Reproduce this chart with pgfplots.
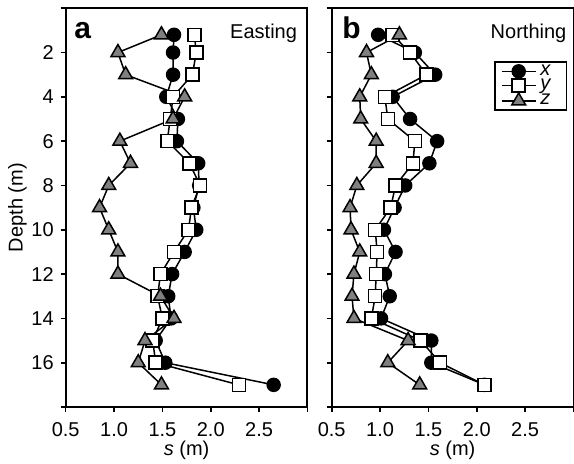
\documentclass[border=0pt]{standalone}
\usepackage{fontspec}
\setmainfont{Liberation Sans}
\usepackage{pgfplots}
\usepackage{pgfplotstable}
\pgfplotsset{compat=1.18}

\pgfplotstableread{
d x y z
1.2 1.62 1.83 1.49
2 1.61 1.85 1.04
3 1.61 1.81 1.12
4 1.54 1.61 1.73
5 1.66 1.58 1.61
6 1.65 1.55 1.06
7 1.87 1.78 1.17
8 1.88 1.89 0.945
9 1.82 1.80 0.85
10 1.85 1.77 0.945
11 1.73 1.62 1.04
12 1.60 1.48 1.04
13 1.56 1.45 1.48
14 1.59 1.50 1.62
15 1.43 1.40 1.32
16 1.53 1.43 1.25
17 2.65 2.29 1.49
}\dataA

\pgfplotstableread{
d x y z
1.2 0.98 1.13 1.20
2 1.36 1.31 0.86
3 1.57 1.48 0.91
4 1.13 1.05 0.79
5 1.31 1.08 0.80
6 1.59 1.36 0.96
7 1.51 1.34 0.96
8 1.26 1.16 0.76
9 1.15 1.11 0.69
10 1.04 0.95 0.70
11 1.16 0.97 0.79
12 1.05 0.96 0.73
13 1.10 0.95 0.71
14 1.01 0.91 0.73
15 1.53 1.42 1.29
16 1.53 1.62 1.08
17 2.08 2.08 1.41
}\dataB

\pgfplotsset{
  panel/.style={
    scale only axis, width=120.9pt, height=199.4pt,
    xmin=0.5, xmax=3.0, ymin=0, ymax=18, y dir=reverse,
    xtick={0.5,1,1.5,2,2.5,3},
    xticklabels={0.5,1.0,1.5,2.0,2.5,},
    ytick={0,2,4,6,8,10,12,14,16,18},
    tick align=outside, tick pos=left, major tick length=2.5pt,
    axis line style={line width=1pt},
    every tick/.style={black, line width=0.8pt},
    tick label style={font=\fontsize{10}{12}\selectfont},
    xticklabel style={yshift=-1.8pt},
    label style={font=\fontsize{10}{12}\selectfont},
    /pgf/number format/assume math mode=true,
    xlabel={\textit{s} (m)},
    x label style={at={(axis description cs:0.5,-0.108)}, anchor=center},
    legend image code/.code={\draw[mark repeat=2,mark phase=2] plot coordinates {(0pt,0pt) (8.5pt,0pt) (17pt,0pt)};},
  },
  xs/.style={black, line width=0.75pt, mark=*, mark size=3.25pt, mark options={fill=black, solid}},
  ys/.style={black, line width=0.75pt, mark=square*, mark size=3.25pt, mark options={fill=white, solid}},
  zs/.style={black, line width=0.75pt, mark=triangle*, mark size=4pt, mark options={fill=gray, solid}},
}

\begin{document}
\begin{tikzpicture}
\path[use as bounding box] (-32.85pt,-28pt) rectangle (254.15pt,203.5pt);
\begin{axis}[panel,
  yticklabels={,2,4,6,8,10,12,14,16,},
  ylabel={Depth (m)},
  y label style={at={(axis description cs:-0.199,0.5)}, anchor=center}]
\addplot[xs] table[x=x,y=d]{\dataA};
\addplot[ys] table[x=y,y=d]{\dataA};
\addplot[zs] table[x=z,y=d]{\dataA};
\node[anchor=base west, inner sep=0pt, font=\fontsize{15}{18}\selectfont\bfseries] at (axis cs:0.586,1.37) {a};
\node[anchor=base east, inner sep=0pt, font=\fontsize{10}{12}\selectfont] at (axis cs:2.895,1.37) {Easting};
\end{axis}
\begin{axis}[panel, at={(133pt,0pt)},
  yticklabels={},
  legend style={at={(axis cs:2.935,2.4)}, anchor=north east, draw=black, line width=0.75pt,
    font=\fontsize{10}{8}\selectfont, inner xsep=3pt, inner ysep=1.2pt, row sep=0.3pt,
    nodes={inner xsep=2pt, inner ysep=0.3pt, text height=5pt, text depth=1.2pt, text width=8pt}},
  legend cell align=left]
\addplot[xs] table[x=x,y=d]{\dataB};
\addplot[ys] table[x=y,y=d]{\dataB};
\addplot[zs] table[x=z,y=d]{\dataB};
\legend{\textit{x},\textit{y},\textit{z}}
\node[anchor=base west, inner sep=0pt, font=\fontsize{15}{18}\selectfont\bfseries] at (axis cs:0.606,1.37) {b};
\node[anchor=base east, inner sep=0pt, font=\fontsize{10}{12}\selectfont] at (axis cs:2.93,1.37) {Northing};
\end{axis}
\end{tikzpicture}
\end{document}
